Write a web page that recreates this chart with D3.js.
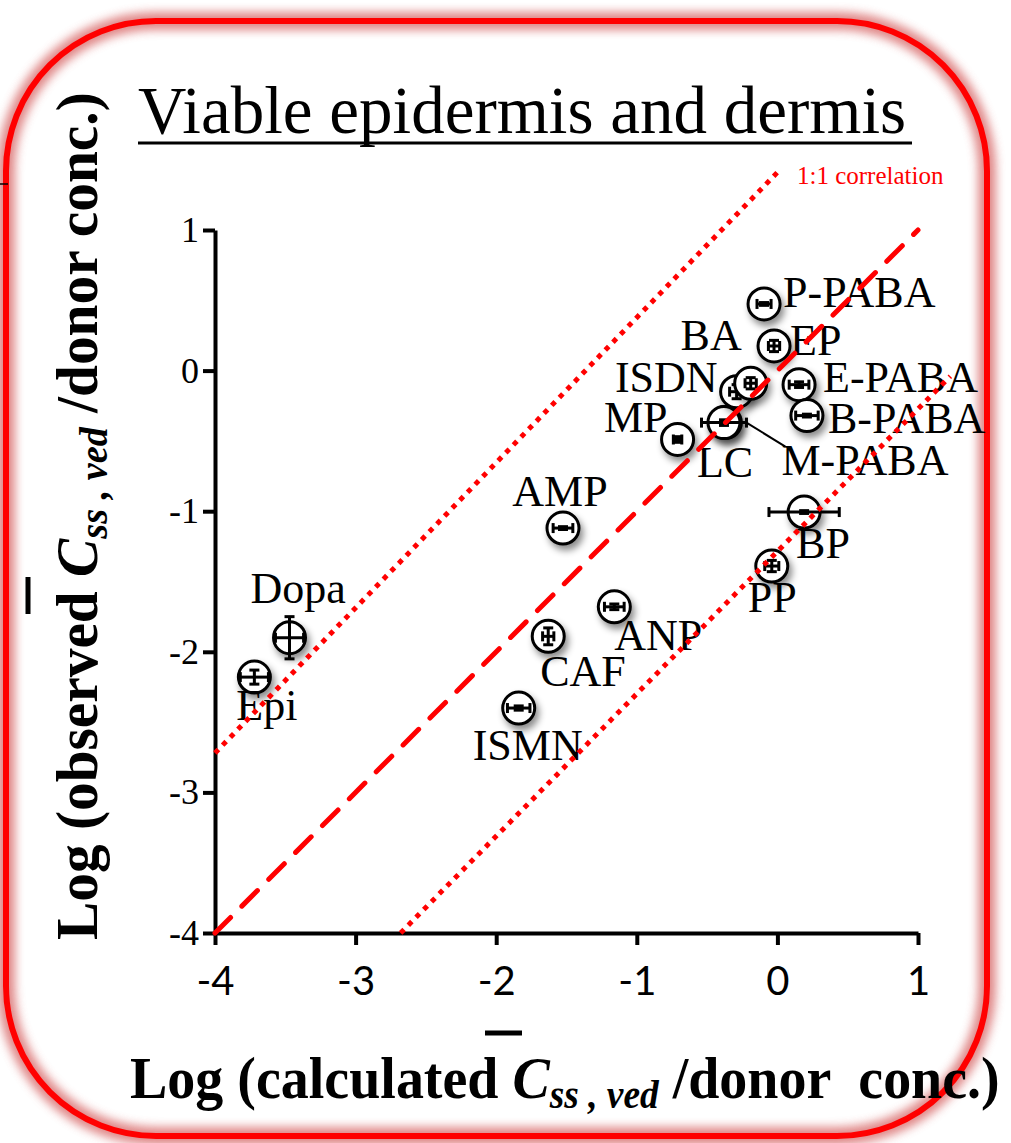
<!DOCTYPE html>
<html lang="en">
<head>
<meta charset="UTF-8" />
<title>Viable epidermis and dermis</title>
<script src="https://d3js.org/d3.v7.min.js"></script>
<style>
  body { margin: 0; background: #fff; }
  svg { display: block; }
  .serif { font-family: "Liberation Serif", "Times New Roman", serif; }
  .axis path, .axis line { stroke: #000; stroke-width: 4; }
</style>
</head>
<body>
<svg id="chart" width="1011" height="1143"></svg>
<script>
// compounds and values (log units)
const names  = ["Epi", "Dopa", "ISMN", "CAF", "ANP", "AMP", "MP", "M-PABA", "LC", "ISDN", "BA", "EP", "P-PABA", "E-PABA", "B-PABA", "PP", "BP"];
const calcX  = [-3.72, -3.47, -1.84, -1.63, -1.16, -1.525, -0.71, -0.37, -0.38, -0.29, -0.19, -0.024, -0.095, 0.154, 0.21, -0.04, 0.19];
const obsY   = [-2.18, -1.90, -2.40, -1.89, -1.68, -1.12, -0.49, -0.37, -0.37, -0.15, -0.09, 0.175, 0.474, -0.10, -0.32, -1.39, -1.006];
const xErr   = [0.10, 0.10, 0.08, 0.04, 0.07, 0.07, 0.03, 0.02, 0.16, 0.05, 0.04, 0.04, 0.05, 0.07, 0.08, 0.05, 0.25];
const yErr   = [0.05, 0.15, 0.015, 0.06, 0.02, 0.01, 0.02, 0.01, 0.02, 0.05, 0.04, 0.04, 0.01, 0.02, 0.01, 0.04, 0.01];
const xTicks = [-4, -3, -2, -1, 0, 1];
const yTicks = [1, 0, -1, -2, -3, -4];
// reference lines: 1:1 and the band around it
const lineOneToOne = [[-4, -4], [1, 1]];
const lineUpper    = [[-4, -2.72], [0, 1.41]];
const lineLower    = [[-2.68, -4], [1.23, -0.04]];

// label placement (px offsets from the marker)
const labelPos = {
  "P-PABA": [19, 3, "start"], "EP": [16, 9, "start"], "BA": [-9, -33, "end"],
  "ISDN": [-19, 0, "end"], "E-PABA": [24, 7, "start"], "B-PABA": [21, 17, "start"],
  "LC": [-27, 54, "start"], "MP": [-10, -7, "end"], "M-PABA": [56, 52, "start"],
  "AMP": [-3, -22, "middle"], "BP": [-8, 46, "start"], "PP": [-24, 46, "start"],
  "ANP": [0, 43, "start"], "CAF": [-8, 50, "start"], "ISMN": [-46, 52, "start"],
  "Dopa": [-39, -35, "start"], "Epi": [-18, 43, "start"]
};

const svg = d3.select("#chart");
const defs = svg.append("defs");
defs.append("filter").attr("id", "shadow").attr("x", "-50%").attr("y", "-50%").attr("width", "200%").attr("height", "200%")
  .append("feDropShadow").attr("dx", 3).attr("dy", 5).attr("stdDeviation", 3.5)
  .attr("flood-color", "#000").attr("flood-opacity", 0.45);
defs.append("filter").attr("id", "glow").attr("x", "-10%").attr("y", "-10%").attr("width", "120%").attr("height", "120%")
  .append("feGaussianBlur").attr("stdDeviation", 5);

// rounded red frame with soft glow
svg.append("rect").attr("x", 6).attr("y", 21).attr("width", 981).attr("height", 1115).attr("rx", 150)
  .attr("fill", "none").attr("stroke", "#d86a6a").attr("stroke-width", 18).attr("opacity", 0.8)
  .attr("filter", "url(#glow)");
svg.append("rect").attr("x", 6).attr("y", 21).attr("width", 981).attr("height", 1115).attr("rx", 150)
  .attr("fill", "none").attr("stroke", "#ff0000").attr("stroke-width", 6);

// bits of the neighbouring panel
svg.append("line").attr("x1", 0).attr("x2", 8).attr("y1", 184).attr("y2", 184).attr("stroke", "#000").attr("stroke-width", 1.5);
svg.append("text").attr("class", "serif").attr("x", -18).attr("y", 1098)
  .attr("font-size", 60).attr("font-weight", "bold").text(")");

const x = d3.scaleLinear().domain([-4, 1]).range([215, 918]);
const y = d3.scaleLinear().domain([-4, 1]).range([933, 230]);

// title
svg.append("text").attr("class", "serif").attr("x", 138).attr("y", 133)
  .attr("font-size", 67).text("Viable epidermis and dermis");
svg.append("line").attr("x1", 138).attr("x2", 912).attr("y1", 143).attr("y2", 143)
  .attr("stroke", "#000").attr("stroke-width", 3);

// axes
svg.append("g").attr("class", "axis").attr("transform", `translate(${x(-4)},0)`)
  .call(d3.axisLeft(y).tickValues(yTicks).tickFormat(d => String(d)).tickSize(12).tickSizeOuter(0).tickPadding(4))
  .call(g => g.attr("font-family", null))
  .call(g => g.selectAll("text").attr("font-size", 36).attr("fill", "#000")
    .style("font-family", "'Liberation Serif', serif"));
svg.append("g").attr("class", "axis").attr("transform", `translate(0,${y(-4)})`)
  .call(d3.axisBottom(x).tickValues(xTicks).tickFormat(d => String(d)).tickSize(12).tickSizeOuter(0).tickPadding(22))
  .call(g => g.selectAll("text").attr("font-size", 40).attr("fill", "#000")
    .style("font-family", "Lato, 'DejaVu Sans', sans-serif"));

// data points
const pts = names.map((n, i) => ({ name: n, cx: calcX[i], cy: obsY[i], ex: xErr[i], ey: yErr[i] }));
const r = 16, cap = 5;
const pg = svg.append("g");
pts.forEach(d => {
  const cxp = x(d.cx), cyp = y(d.cy);
  pg.append("circle").attr("cx", cxp).attr("cy", cyp).attr("r", r)
    .attr("fill", "#fff").attr("stroke", "#000").attr("stroke-width", 3).attr("filter", "url(#shadow)");
  const eg = pg.append("g").attr("stroke", "#000").attr("stroke-width", 3);
  const x0 = x(d.cx - d.ex), x1 = x(d.cx + d.ex), y0 = y(d.cy - d.ey), y1 = y(d.cy + d.ey);
  eg.append("line").attr("x1", x0).attr("x2", x1).attr("y1", cyp).attr("y2", cyp);
  eg.append("line").attr("x1", x0).attr("x2", x0).attr("y1", cyp - cap).attr("y2", cyp + cap);
  eg.append("line").attr("x1", x1).attr("x2", x1).attr("y1", cyp - cap).attr("y2", cyp + cap);
  eg.append("line").attr("x1", cxp).attr("x2", cxp).attr("y1", y0).attr("y2", y1);
  eg.append("line").attr("x1", cxp - cap).attr("x2", cxp + cap).attr("y1", y0).attr("y2", y0);
  eg.append("line").attr("x1", cxp - cap).attr("x2", cxp + cap).attr("y1", y1).attr("y2", y1);
});

// leader for M-PABA (from the wide LC error bar)
const lc = pts.find(d => d.name === "LC");
const mp = pts.find(d => d.name === "M-PABA");
svg.append("line").attr("x1", x(lc.cx + lc.ex)).attr("y1", y(lc.cy))
  .attr("x2", x(mp.cx) + 60).attr("y2", y(mp.cy) + 24)
  .attr("stroke", "#000").attr("stroke-width", 2);

// labels
svg.append("g").attr("class", "serif").selectAll("text").data(pts).join("text")
  .attr("x", d => x(d.cx) + labelPos[d.name][0])
  .attr("y", d => y(d.cy) + labelPos[d.name][1])
  .attr("text-anchor", d => labelPos[d.name][2])
  .attr("font-size", 44).text(d => d.name);

// reference lines on top
const line = d3.line().x(d => x(d[0])).y(d => y(d[1]));
svg.append("path").datum(lineOneToOne).attr("d", line).attr("fill", "none")
  .attr("stroke", "#ff0000").attr("stroke-width", 5).attr("stroke-dasharray", "22,16").attr("stroke-linecap", "round");
[lineUpper, lineLower].forEach(l => {
  svg.append("path").datum(l).attr("d", line).attr("fill", "none")
    .attr("stroke", "#ff0000").attr("stroke-width", 5).attr("stroke-dasharray", "5,6");
});
svg.append("text").attr("x", 797).attr("y", 184)
  .style("font-family", "'Liberation Serif', serif")
  .attr("font-size", 25).attr("fill", "#ff0000").text("1:1 correlation");

// axis titles: bold serif, horizontally compressed to the reference width
function axisTitle(g, pre, post, width) {
  const t = g.append("text").attr("class", "serif").attr("font-size", 60).attr("font-weight", "bold")
    .style("white-space", "pre");
  t.append("tspan").text(pre);
  t.append("tspan").attr("font-style", "italic").text("C");
  t.append("tspan").attr("font-style", "italic").attr("font-size", 40).attr("dy", 10).text("ss , ved");
  t.append("tspan").attr("dy", -10).text(post);
  const w = t.node().getComputedTextLength();
  t.attr("transform", `scale(${width / w},1)`);
}
const gx = svg.append("g").attr("transform", "translate(130,1098)");
axisTitle(gx, "Log (calculated ", " /donor  conc.)", 870);
svg.append("line").attr("x1", 485).attr("x2", 522).attr("y1", 1033).attr("y2", 1033)
  .attr("stroke", "#000").attr("stroke-width", 5);

const gy = svg.append("g").attr("transform", "translate(97,940) rotate(-90)");
axisTitle(gy, "Log (observed ", " /donor conc.)", 848);
svg.append("line").attr("x1", 28).attr("x2", 28).attr("y1", 577).attr("y2", 614)
  .attr("stroke", "#000").attr("stroke-width", 5);
</script>
</body>
</html>
